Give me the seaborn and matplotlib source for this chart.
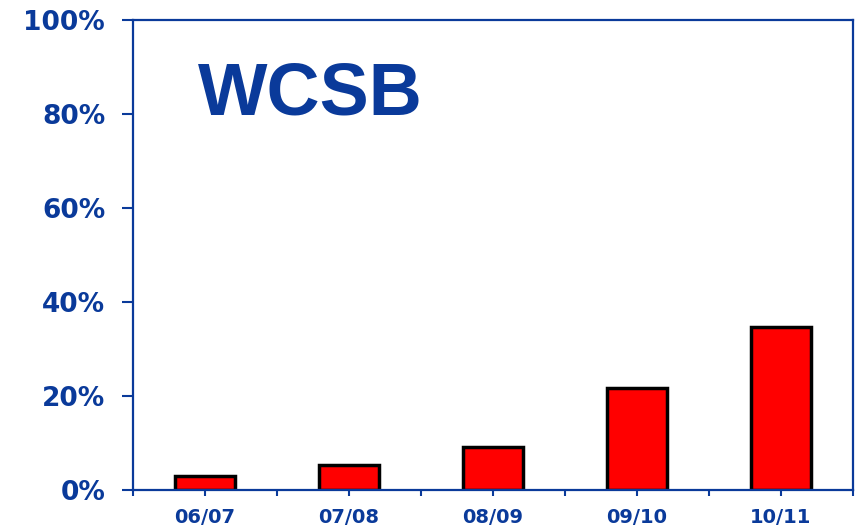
import numpy as np
import pandas as pd
import seaborn as sns
import matplotlib.pyplot as plt
from matplotlib.ticker import FixedLocator, PercentFormatter

sns.set_style("white")
plt.rcParams['font.family'] = ['DejaVu Sans']

# Data
years = ["06/07", "07/08", "08/09", "09/10", "10/11"]
shares = [3.0, 5.3, 9.1, 21.7, 34.7]

blue = "#0a3a9a"
df = pd.DataFrame({"year": years, "share": shares})

fig = plt.figure(figsize=(8.59, 5.31), dpi=100)
ax = fig.add_axes([0.1548, 0.0772, 0.8382, 0.8851])

sns.barplot(data=df, x="year", y="share", color="#ff0000", edgecolor="black",
            linewidth=2.5, width=0.42, saturation=1, ax=ax)

ax.set_ylim(0, 100)
ax.set_xlim(-0.5, 4.5)
ax.set_yticks(np.arange(0, 101, 20))
ax.yaxis.set_major_formatter(PercentFormatter(decimals=0))
ax.xaxis.set_minor_locator(FixedLocator(np.arange(-0.5, 5, 1)))
ax.set_xlabel("")
ax.set_ylabel("")

for s in ax.spines.values():
    s.set_visible(True)
    s.set_color(blue)
    s.set_linewidth(1.6)

ax.tick_params(axis="y", which="major", direction="out", length=8, width=1.5,
               color=blue, labelcolor=blue, labelsize=19, pad=12, left=True)
ax.tick_params(axis="x", which="both", direction="out", length=4, width=1.5,
               color=blue, labelcolor=blue, labelsize=14, pad=9, bottom=True)
for lbl in ax.get_xticklabels() + ax.get_yticklabels():
    lbl.set_fontweight("bold")

ax.text(0.09, 0.84, "WCSB", transform=ax.transAxes, fontsize=53, fontweight="bold",
        color=blue, family="Liberation Sans", va="center", ha="left")

fig.savefig("out.png", dpi=100)
